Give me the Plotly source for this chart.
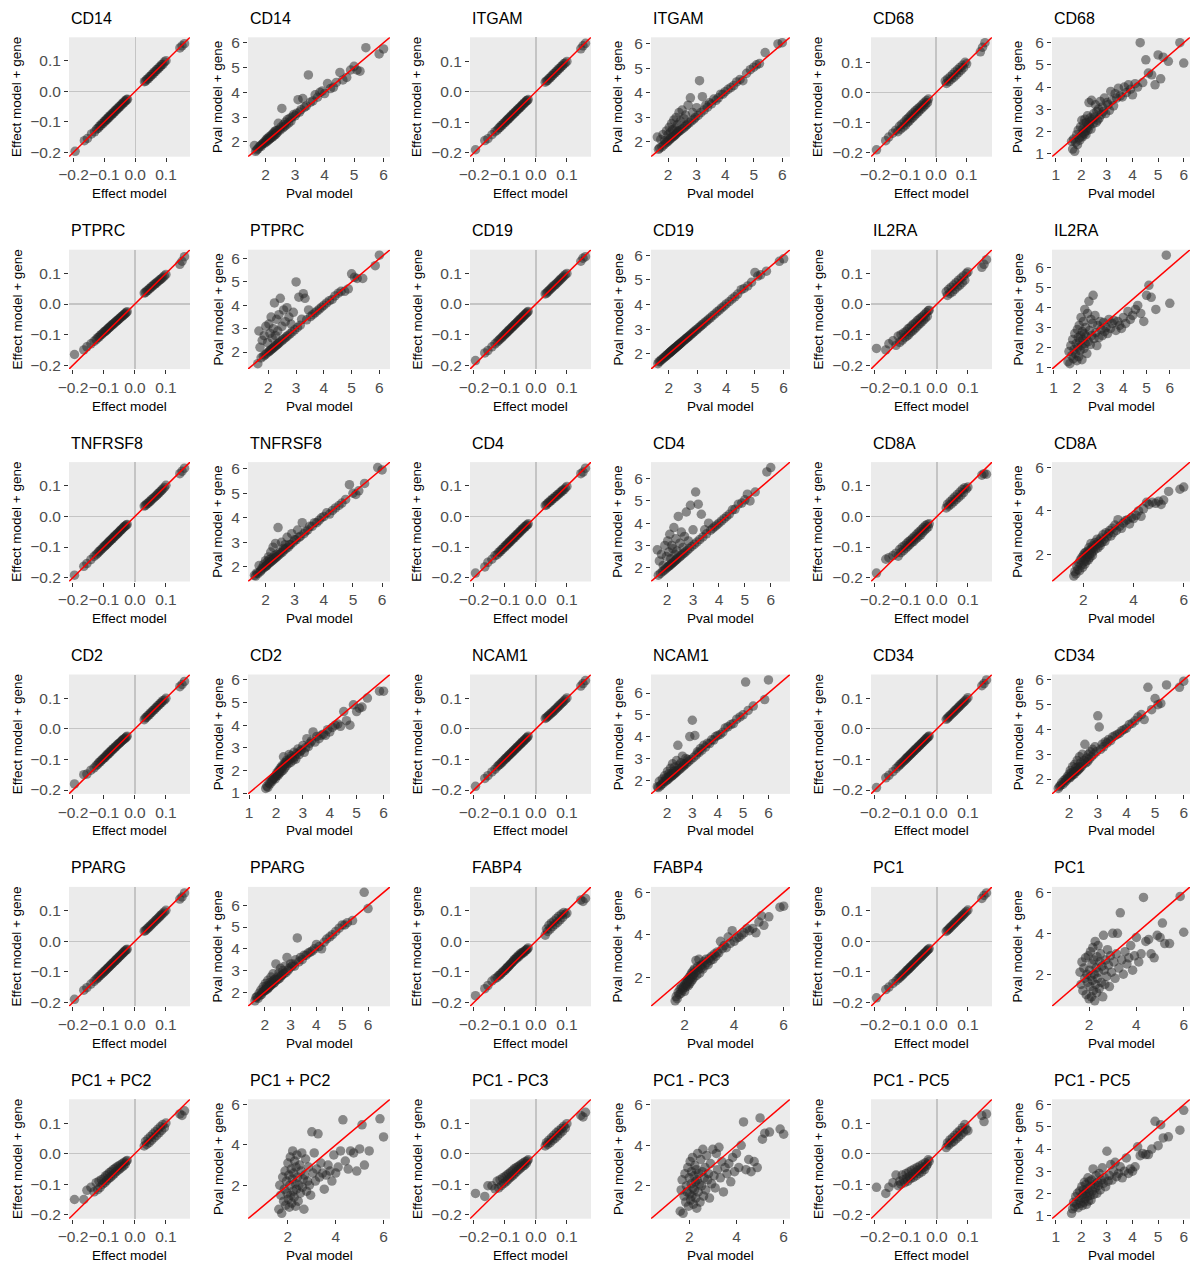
import plotly.graph_objects as go

# ---------------- shared x values ----------------
x_effect = [-0.195, -0.165, -0.155, -0.142, -0.132, -0.125,
            -0.120, -0.116, -0.112, -0.108, -0.104, -0.100,
            -0.097, -0.094, -0.091, -0.088, -0.085, -0.082,
            -0.079, -0.076, -0.073, -0.070, -0.067, -0.064,
            -0.061, -0.058, -0.055, -0.052, -0.049, -0.046,
            -0.043, -0.040, -0.037, -0.034, -0.031, -0.028, -0.025,
            0.030, 0.034, 0.038, 0.042, 0.046, 0.050,
            0.054, 0.058, 0.062, 0.066, 0.070, 0.074,
            0.078, 0.082, 0.086, 0.090, 0.095, 0.100,
            0.145, 0.152, 0.160]

x_pval = [1.62, 1.66, 1.70, 1.74, 1.78, 1.82, 1.85, 1.88, 1.91, 1.94,
          1.97, 2.00, 2.02, 2.04, 2.06, 2.08, 2.10, 2.12, 2.14, 2.16,
          2.18, 2.20, 2.22, 2.24, 2.26, 2.28, 2.30, 2.32, 2.34, 2.36,
          2.38, 2.40, 2.43, 2.46, 2.49, 2.52, 2.55, 2.58, 2.61, 2.64,
          2.67, 2.70, 2.74, 2.78, 2.82, 2.86, 2.90, 2.95, 3.00, 3.05,
          3.10, 3.15, 3.20, 3.26, 3.32, 3.38, 3.45, 3.52, 3.60, 3.68,
          3.76, 3.84, 3.92, 4.00, 4.10, 4.20, 4.30, 4.40, 4.52, 4.62,
          4.75, 4.88, 5.00, 5.10, 5.20, 5.40, 5.85, 6.00]

# ---------------- effect model + gene ----------------
eff_CD14 = [-0.197, -0.162, -0.155, -0.140, -0.133, -0.124,
            -0.121, -0.114, -0.113, -0.106, -0.105, -0.098,
            -0.098, -0.092, -0.092, -0.086, -0.086, -0.080,
            -0.080, -0.074, -0.074, -0.068, -0.068, -0.062,
            -0.062, -0.056, -0.056, -0.050, -0.050, -0.044,
            -0.044, -0.038, -0.038, -0.032, -0.032, -0.027, -0.026,
            0.032, 0.034, 0.040, 0.041, 0.048, 0.049,
            0.056, 0.057, 0.064, 0.065, 0.072, 0.073,
            0.080, 0.081, 0.088, 0.089, 0.097, 0.101,
            0.143, 0.150, 0.157]
eff_ITGAM = [-0.190, -0.160, -0.154, -0.141, -0.131, -0.126,
             -0.119, -0.117, -0.111, -0.109, -0.103, -0.101,
             -0.096, -0.095, -0.090, -0.089, -0.084, -0.083,
             -0.078, -0.077, -0.072, -0.071, -0.066, -0.065,
             -0.060, -0.059, -0.054, -0.053, -0.048, -0.047,
             -0.042, -0.041, -0.036, -0.035, -0.030, -0.029, -0.026,
             0.031, 0.035, 0.037, 0.043, 0.045, 0.051,
             0.053, 0.059, 0.061, 0.067, 0.069, 0.075,
             0.077, 0.083, 0.085, 0.091, 0.094, 0.099,
             0.140, 0.150, 0.158]
eff_CD68 = [-0.190, -0.160, -0.148, -0.135, -0.125, -0.130,
            -0.112, -0.122, -0.105, -0.115, -0.098, -0.108,
            -0.090, -0.100, -0.085, -0.095, -0.078, -0.088,
            -0.072, -0.083, -0.066, -0.076, -0.060, -0.070,
            -0.055, -0.064, -0.050, -0.058, -0.044, -0.052,
            -0.038, -0.046, -0.032, -0.040, -0.027, -0.034, -0.022,
            0.038, 0.030, 0.045, 0.036, 0.052, 0.044,
            0.060, 0.050, 0.068, 0.058, 0.075, 0.066,
            0.083, 0.074, 0.090, 0.082, 0.100, 0.095,
            0.135, 0.150, 0.165]
eff_PTPRC = [-0.165, -0.150, -0.140, -0.130, -0.122, -0.116,
             -0.110, -0.108, -0.102, -0.100, -0.096, -0.092,
             -0.090, -0.087, -0.085, -0.081, -0.079, -0.076,
             -0.074, -0.070, -0.068, -0.065, -0.063, -0.060,
             -0.057, -0.055, -0.052, -0.049, -0.047, -0.044,
             -0.041, -0.039, -0.036, -0.033, -0.031, -0.028, -0.025,
             0.036, 0.038, 0.043, 0.045, 0.050, 0.052,
             0.057, 0.059, 0.064, 0.066, 0.070, 0.073,
             0.077, 0.080, 0.083, 0.087, 0.092, 0.097,
             0.130, 0.140, 0.155]
eff_CD19 = [-0.185, -0.160, -0.152, -0.140, -0.130, -0.124,
            -0.119, -0.115, -0.111, -0.107, -0.103, -0.099,
            -0.096, -0.093, -0.090, -0.087, -0.084, -0.081,
            -0.078, -0.075, -0.072, -0.069, -0.066, -0.063,
            -0.060, -0.057, -0.054, -0.051, -0.048, -0.045,
            -0.042, -0.039, -0.036, -0.033, -0.030, -0.027, -0.024,
            0.033, 0.036, 0.040, 0.044, 0.048, 0.052,
            0.056, 0.060, 0.063, 0.067, 0.071, 0.075,
            0.079, 0.083, 0.087, 0.091, 0.096, 0.100,
            0.140, 0.150, 0.155]
eff_IL2RA = [-0.145, -0.150, -0.130, -0.120, -0.135, -0.105,
             -0.125, -0.100, -0.118, -0.095, -0.110, -0.090,
             -0.105, -0.082, -0.100, -0.078, -0.092, -0.072,
             -0.088, -0.066, -0.082, -0.062, -0.076, -0.055,
             -0.070, -0.050, -0.064, -0.045, -0.058, -0.040,
             -0.052, -0.034, -0.046, -0.028, -0.040, -0.022, -0.020,
             0.040, 0.028, 0.048, 0.035, 0.055, 0.040,
             0.062, 0.048, 0.070, 0.056, 0.078, 0.062,
             0.085, 0.070, 0.092, 0.078, 0.100, 0.105,
             0.120, 0.130, 0.145]
eff_TNFRSF8 = [-0.192, -0.163, -0.154, -0.141, -0.131, -0.125,
               -0.120, -0.115, -0.112, -0.107, -0.104, -0.099,
               -0.097, -0.093, -0.091, -0.087, -0.085, -0.081,
               -0.079, -0.075, -0.073, -0.069, -0.067, -0.063,
               -0.061, -0.057, -0.055, -0.051, -0.049, -0.045,
               -0.043, -0.039, -0.037, -0.033, -0.031, -0.028, -0.026,
               0.034, 0.036, 0.041, 0.043, 0.048, 0.050,
               0.055, 0.058, 0.062, 0.066, 0.069, 0.074,
               0.077, 0.082, 0.085, 0.090, 0.095, 0.102,
               0.140, 0.148, 0.158]
eff_CD4 = [-0.185, -0.165, -0.150, -0.140, -0.128, -0.125,
           -0.117, -0.116, -0.109, -0.108, -0.101, -0.100,
           -0.094, -0.094, -0.088, -0.088, -0.082, -0.082,
           -0.076, -0.076, -0.070, -0.070, -0.064, -0.064,
           -0.058, -0.058, -0.052, -0.052, -0.046, -0.046,
           -0.040, -0.040, -0.034, -0.034, -0.029, -0.028, -0.024,
           0.036, 0.038, 0.044, 0.045, 0.051, 0.052,
           0.058, 0.059, 0.065, 0.066, 0.072, 0.073,
           0.079, 0.080, 0.086, 0.087, 0.093, 0.098,
           0.140, 0.145, 0.158]
eff_CD8A = [-0.185, -0.140, -0.135, -0.128, -0.120, -0.130,
            -0.108, -0.118, -0.100, -0.112, -0.095, -0.104,
            -0.088, -0.098, -0.082, -0.092, -0.078, -0.086,
            -0.072, -0.082, -0.066, -0.075, -0.060, -0.070,
            -0.054, -0.064, -0.048, -0.060, -0.042, -0.052,
            -0.036, -0.046, -0.030, -0.040, -0.026, -0.034, -0.024,
            0.028, 0.040, 0.034, 0.048, 0.040, 0.056,
            0.048, 0.064, 0.055, 0.072, 0.062, 0.080,
            0.070, 0.088, 0.078, 0.094, 0.090, 0.096,
            0.135, 0.140, 0.138]
eff_CD2 = [-0.180, -0.150, -0.148, -0.135, -0.128, -0.120,
           -0.116, -0.110, -0.108, -0.102, -0.100, -0.095,
           -0.094, -0.088, -0.088, -0.082, -0.082, -0.076,
           -0.076, -0.070, -0.070, -0.065, -0.064, -0.059,
           -0.058, -0.053, -0.052, -0.048, -0.046, -0.043,
           -0.040, -0.037, -0.035, -0.032, -0.030, -0.027, -0.024,
           0.030, 0.036, 0.038, 0.044, 0.046, 0.052,
           0.054, 0.060, 0.062, 0.068, 0.070, 0.076,
           0.078, 0.084, 0.086, 0.092, 0.094, 0.100,
           0.138, 0.145, 0.155]
eff_NCAM1 = [-0.188, -0.162, -0.153, -0.141, -0.132, -0.124,
             -0.119, -0.116, -0.111, -0.108, -0.103, -0.100,
             -0.096, -0.094, -0.090, -0.088, -0.084, -0.082,
             -0.078, -0.076, -0.072, -0.070, -0.066, -0.064,
             -0.060, -0.058, -0.054, -0.052, -0.048, -0.046,
             -0.042, -0.040, -0.036, -0.034, -0.030, -0.028, -0.024,
             0.034, 0.037, 0.041, 0.044, 0.048, 0.052,
             0.055, 0.059, 0.063, 0.067, 0.071, 0.075,
             0.079, 0.083, 0.087, 0.091, 0.096, 0.101,
             0.140, 0.148, 0.158]
eff_CD34 = [-0.192, -0.160, -0.152, -0.140, -0.130, -0.123,
            -0.118, -0.114, -0.110, -0.106, -0.102, -0.098,
            -0.095, -0.092, -0.089, -0.086, -0.083, -0.080,
            -0.077, -0.074, -0.071, -0.068, -0.065, -0.062,
            -0.059, -0.056, -0.053, -0.050, -0.047, -0.044,
            -0.041, -0.038, -0.035, -0.032, -0.029, -0.026, -0.023,
            0.031, 0.035, 0.039, 0.043, 0.047, 0.051,
            0.055, 0.059, 0.063, 0.067, 0.071, 0.075,
            0.079, 0.083, 0.087, 0.091, 0.096, 0.102,
            0.141, 0.148, 0.160]
eff_PPARG = [-0.190, -0.160, -0.152, -0.140, -0.131, -0.124,
             -0.120, -0.115, -0.112, -0.107, -0.104, -0.100,
             -0.097, -0.094, -0.091, -0.088, -0.085, -0.082,
             -0.079, -0.076, -0.073, -0.070, -0.067, -0.064,
             -0.061, -0.058, -0.055, -0.052, -0.049, -0.046,
             -0.043, -0.040, -0.037, -0.034, -0.031, -0.028, -0.026,
             0.033, 0.035, 0.040, 0.043, 0.047, 0.051,
             0.055, 0.059, 0.063, 0.067, 0.071, 0.075,
             0.079, 0.083, 0.087, 0.091, 0.096, 0.101,
             0.138, 0.145, 0.158]
eff_FABP4 = [-0.178, -0.155, -0.145, -0.130, -0.122, -0.118,
             -0.112, -0.110, -0.105, -0.102, -0.097, -0.095,
             -0.090, -0.088, -0.084, -0.082, -0.078, -0.075,
             -0.072, -0.068, -0.066, -0.060, -0.060, -0.054,
             -0.055, -0.048, -0.050, -0.042, -0.044, -0.038,
             -0.040, -0.034, -0.035, -0.030, -0.028, -0.026, -0.022,
             0.020, 0.040, 0.032, 0.052, 0.040, 0.060,
             0.048, 0.066, 0.055, 0.074, 0.062, 0.082,
             0.070, 0.088, 0.078, 0.094, 0.088, 0.092,
             0.135, 0.130, 0.140]
eff_PC1 = [-0.185, -0.158, -0.150, -0.138, -0.130, -0.123,
           -0.119, -0.115, -0.111, -0.107, -0.103, -0.099,
           -0.096, -0.093, -0.090, -0.087, -0.084, -0.081,
           -0.078, -0.075, -0.072, -0.069, -0.066, -0.063,
           -0.060, -0.057, -0.054, -0.051, -0.048, -0.045,
           -0.042, -0.039, -0.036, -0.033, -0.030, -0.027, -0.024,
           0.032, 0.036, 0.040, 0.044, 0.048, 0.052,
           0.056, 0.060, 0.064, 0.068, 0.072, 0.076,
           0.080, 0.084, 0.088, 0.092, 0.097, 0.102,
           0.140, 0.150, 0.158]
eff_PC1_PC2 = [-0.150, -0.150, -0.120, -0.110, -0.125, -0.095,
               -0.118, -0.090, -0.110, -0.085, -0.100, -0.080,
               -0.095, -0.072, -0.088, -0.068, -0.082, -0.062,
               -0.078, -0.058, -0.072, -0.052, -0.066, -0.048,
               -0.060, -0.044, -0.055, -0.040, -0.050, -0.036,
               -0.045, -0.032, -0.040, -0.028, -0.034, -0.025, -0.022,
               0.025, 0.040, 0.030, 0.048, 0.036, 0.056,
               0.044, 0.064, 0.052, 0.072, 0.060, 0.080,
               0.068, 0.088, 0.076, 0.095, 0.085, 0.100,
               0.130, 0.125, 0.140]
eff_PC1_PC3 = [-0.130, -0.140, -0.105, -0.105, -0.115, -0.090,
               -0.112, -0.085, -0.105, -0.080, -0.098, -0.075,
               -0.092, -0.070, -0.086, -0.066, -0.080, -0.060,
               -0.075, -0.056, -0.070, -0.050, -0.064, -0.046,
               -0.058, -0.042, -0.052, -0.038, -0.047, -0.034,
               -0.042, -0.030, -0.038, -0.026, -0.032, -0.024, -0.020,
               0.025, 0.036, 0.030, 0.044, 0.036, 0.052,
               0.044, 0.060, 0.050, 0.068, 0.058, 0.075,
               0.066, 0.082, 0.074, 0.090, 0.084, 0.098,
               0.125, 0.120, 0.135]
eff_PC1_PC5 = [-0.110, -0.130, -0.110, -0.095, -0.070, -0.105,
               -0.090, -0.100, -0.070, -0.085, -0.095, -0.065,
               -0.080, -0.090, -0.060, -0.075, -0.082, -0.055,
               -0.068, -0.078, -0.050, -0.062, -0.072, -0.045,
               -0.055, -0.065, -0.040, -0.050, -0.060, -0.035,
               -0.045, -0.052, -0.030, -0.040, -0.035, -0.020, -0.025,
               0.020, 0.035, 0.028, 0.045, 0.035, 0.052,
               0.040, 0.060, 0.048, 0.068, 0.055, 0.075,
               0.062, 0.085, 0.070, 0.095, 0.080, 0.075,
               0.125, 0.105, 0.130]

# ---------------- Pval model + gene ----------------
pv_CD14 = [1.85, 1.62, 1.68, 1.72, 1.80, 1.85, 1.82, 1.90, 1.93, 1.98,
           1.95, 2.05, 2.00, 2.12, 2.04, 2.15, 2.08, 2.20, 2.12, 2.14,
           2.25, 2.18, 2.30, 2.20, 2.35, 2.26, 2.40, 2.28, 2.45, 2.33,
           2.45, 2.38, 2.75, 2.50, 2.47, 2.60, 3.35, 2.56, 2.70, 2.62,
           2.80, 2.68, 2.90, 2.76, 2.95, 2.84, 3.00, 3.10, 3.05, 3.15,
           3.70, 3.20, 3.30, 3.75, 3.40, 3.45, 4.70, 3.60, 3.65, 3.90,
           3.80, 4.00, 4.05, 3.95, 4.35, 4.15, 4.20, 4.40, 4.80, 4.50,
           4.60, 4.90, 5.05, 4.90, 4.85, 5.80, 5.55, 5.75]
pv_ITGAM = [2.20, 1.70, 1.75, 2.10, 1.80, 2.30, 1.88, 2.05, 1.95, 2.45,
            2.00, 2.30, 2.05, 2.60, 2.10, 2.40, 2.15, 2.75, 2.20, 2.50,
            2.22, 2.90, 2.26, 2.55, 2.30, 3.00, 2.35, 2.70, 2.40, 2.45,
            3.20, 2.45, 2.85, 2.50, 3.30, 2.55, 2.95, 2.62, 3.10, 2.68,
            2.72, 3.50, 2.78, 3.80, 2.86, 3.20, 2.93, 3.00, 3.40, 3.08,
            4.50, 3.20, 3.85, 3.30, 3.50, 3.42, 3.60, 3.55, 3.75, 3.70,
            3.80, 3.95, 3.95, 4.05, 4.15, 4.22, 4.30, 4.45, 4.55, 4.50,
            4.80, 4.95, 5.05, 5.15, 5.20, 5.65, 6.00, 6.05]
pv_CD68 = [1.55, 1.20, 1.65, 1.10, 1.50, 1.85, 1.40, 2.05, 1.70, 1.60,
           2.20, 1.80, 2.50, 1.75, 2.10, 1.95, 2.35, 1.90, 2.55, 2.00,
           1.85, 2.40, 2.15, 2.70, 2.05, 2.30, 3.30, 2.25, 2.60, 2.45,
           2.10, 3.40, 2.55, 2.35, 2.80, 2.65, 3.20, 2.40, 2.90, 2.50,
           3.00, 2.60, 3.35, 2.75, 3.10, 2.90, 3.50, 2.80, 3.30, 3.20,
           2.95, 3.80, 3.40, 3.15, 3.70, 3.50, 3.95, 3.60, 3.55, 4.00,
           3.75, 4.10, 3.90, 3.65, 4.15, 4.00, 6.00, 4.20, 5.23, 4.63,
           4.55, 4.10, 5.45, 4.37, 5.35, 5.16, 6.00, 5.08]
pv_PTPRC = [1.50, 2.90, 2.20, 1.75, 2.50, 1.82, 2.70, 1.88, 3.10, 1.94,
            2.40, 2.00, 3.20, 2.04, 2.80, 2.08, 3.50, 2.12, 2.60, 2.16,
            3.00, 2.20, 4.10, 2.24, 2.70, 2.28, 3.40, 2.32, 2.90, 2.36,
            3.60, 2.40, 4.30, 2.46, 3.10, 2.52, 3.80, 2.58, 3.30, 2.64,
            3.90, 2.70, 3.50, 2.78, 3.20, 2.86, 3.70, 2.95, 5.00, 3.05,
            4.35, 3.15, 3.40, 4.50, 4.30, 3.38, 3.80, 3.52, 3.60, 3.68,
            3.76, 3.84, 3.92, 4.00, 4.10, 4.20, 4.25, 4.40, 4.52, 4.60,
            4.60, 4.70, 5.35, 5.20, 5.15, 5.15, 5.70, 6.15]
pv_CD19 = [1.60, 1.68, 1.70, 1.76, 1.78, 1.84, 1.85, 1.90, 1.92, 1.96,
           1.98, 2.02, 2.03, 2.06, 2.07, 2.10, 2.11, 2.14, 2.15, 2.18,
           2.19, 2.22, 2.23, 2.26, 2.27, 2.30, 2.31, 2.34, 2.35, 2.38,
           2.39, 2.42, 2.44, 2.48, 2.50, 2.54, 2.56, 2.60, 2.62, 2.66,
           2.68, 2.72, 2.75, 2.80, 2.83, 2.88, 2.91, 2.97, 3.01, 3.07,
           3.11, 3.17, 3.21, 3.28, 3.33, 3.40, 3.46, 3.54, 3.61, 3.70,
           3.77, 3.86, 3.93, 4.02, 4.11, 4.22, 4.31, 4.42, 4.60, 4.65,
           4.75, 4.90, 5.30, 5.15, 5.20, 5.35, 5.75, 5.85]
pv_IL2RA = [1.30, 1.80, 1.20, 2.10, 1.60, 2.40, 1.45, 1.90, 2.70, 1.70,
            2.20, 1.35, 2.90, 2.00, 2.50, 1.55, 3.10, 2.30, 1.85, 2.60,
            3.50, 2.10, 1.40, 2.80, 2.40, 3.30, 1.95, 2.70, 3.90, 2.20,
            3.00, 2.55, 1.70, 3.70, 2.30, 4.30, 2.85, 2.15, 3.40, 2.60,
            3.20, 4.60, 2.45, 3.60, 2.75, 2.10, 3.10, 2.50, 3.30, 2.90,
            2.60, 3.25, 2.80, 3.00, 2.70, 3.40, 2.95, 3.20, 3.35, 2.85,
            3.30, 3.10, 2.95, 3.50, 3.20, 3.80, 3.40, 3.60, 3.90, 4.10,
            3.70, 3.30, 4.60, 5.10, 4.50, 3.90, 6.60, 4.20]
pv_TNFRSF8 = [1.65, 1.62, 1.75, 1.72, 2.05, 1.80, 1.86, 1.95, 1.92, 2.10,
              1.98, 2.25, 2.03, 2.05, 2.20, 2.10, 2.40, 2.15, 2.30, 2.18,
              2.60, 2.22, 2.35, 2.26, 2.80, 2.30, 2.45, 2.34, 2.95, 2.38,
              2.50, 2.42, 3.60, 2.48, 2.60, 2.55, 3.00, 2.60, 2.75, 2.68,
              2.90, 2.74, 3.20, 2.80, 2.90, 2.90, 3.35, 3.00, 3.10, 3.10,
              3.50, 3.20, 3.25, 3.80, 3.35, 3.45, 3.50, 3.65, 3.65, 3.80,
              3.80, 3.90, 4.00, 4.05, 4.20, 4.15, 4.30, 4.40, 4.50, 4.60,
              4.75, 5.35, 5.00, 4.95, 5.10, 5.40, 6.05, 5.95]
pv_CD4 = [2.80, 1.66, 2.30, 1.74, 2.60, 1.82, 2.10, 1.88, 3.00, 1.94,
          2.50, 2.00, 3.20, 2.04, 2.70, 2.08, 3.50, 2.12, 2.40, 2.16,
          3.00, 2.20, 2.85, 2.24, 3.80, 2.28, 2.60, 2.32, 3.30, 2.36,
          2.75, 2.40, 4.30, 2.46, 3.10, 2.52, 3.60, 2.58, 2.90, 2.64,
          3.40, 2.70, 4.50, 2.78, 3.20, 2.86, 4.80, 2.95, 3.70, 3.05,
          5.40, 3.15, 4.85, 3.26, 4.40, 3.38, 3.70, 3.52, 4.00, 3.68,
          3.76, 3.84, 3.92, 4.00, 4.10, 4.20, 4.30, 4.40, 4.60, 4.62,
          4.85, 4.90, 5.05, 5.30, 5.00, 5.40, 6.30, 6.50]
pv_CD8A = [1.00, 1.20, 1.10, 1.45, 1.30, 1.60, 1.25, 1.75, 1.50, 1.85,
           1.40, 1.95, 1.65, 2.05, 1.55, 1.80, 2.10, 1.70, 2.00, 1.90,
           2.15, 1.75, 2.30, 2.00, 1.85, 2.20, 2.50, 2.05, 2.25, 1.95,
           2.40, 2.15, 2.35, 2.55, 2.25, 2.45, 2.70, 2.30, 2.60, 2.50,
           2.40, 2.75, 2.55, 2.90, 2.70, 2.60, 3.00, 2.80, 2.95, 3.10,
           2.85, 3.20, 3.00, 3.35, 3.10, 3.60, 3.30, 3.20, 3.45, 3.55,
           3.60, 3.40, 3.70, 3.65, 3.80, 4.00, 3.75, 4.10, 4.40, 4.30,
           4.40, 4.35, 4.45, 4.30, 4.50, 4.90, 5.00, 5.10]
pv_CD2 = [1.20, 1.30, 1.25, 1.45, 1.40, 1.55, 1.50, 1.60, 1.65, 1.70,
          1.62, 1.80, 1.75, 1.90, 1.85, 1.78, 2.00, 1.95, 1.88, 2.10,
          2.05, 1.95, 2.20, 2.15, 2.00, 2.60, 2.25, 2.10, 2.35, 2.30,
          2.20, 2.45, 2.40, 2.30, 2.70, 2.50, 2.35, 2.65, 2.55, 2.45,
          2.80, 2.60, 2.50, 2.75, 2.95, 2.70, 2.85, 2.90, 3.10, 2.80,
          3.00, 3.40, 3.05, 3.20, 3.30, 3.70, 3.25, 3.50, 3.40, 3.55,
          3.60, 3.55, 3.80, 3.70, 3.90, 4.00, 4.05, 3.95, 4.60, 4.20,
          4.00, 4.90, 4.60, 4.75, 4.80, 5.20, 5.50, 5.50]
pv_NCAM1 = [1.70, 1.66, 1.95, 1.74, 1.80, 2.05, 1.85, 1.95, 2.20, 1.94,
            2.10, 2.00, 2.40, 2.04, 2.15, 2.30, 2.10, 2.20, 2.55, 2.16,
            2.30, 2.20, 2.75, 2.24, 2.40, 2.28, 2.60, 2.32, 2.45, 2.36,
            2.90, 2.40, 3.60, 2.46, 2.70, 2.52, 2.80, 2.58, 3.10, 2.64,
            2.75, 2.70, 3.00, 2.78, 2.95, 2.86, 4.00, 2.95, 4.75, 3.05,
            4.05, 3.15, 3.30, 3.26, 3.45, 3.38, 3.60, 3.52, 3.70, 3.68,
            3.85, 3.84, 4.00, 4.05, 4.10, 4.20, 4.40, 4.45, 4.55, 4.60,
            4.80, 4.90, 5.00, 6.50, 5.20, 5.40, 5.70, 6.60]
pv_CD34 = [1.62, 1.70, 1.75, 1.85, 1.78, 1.95, 1.88, 2.00, 1.95, 2.10,
           2.05, 2.20, 2.05, 2.35, 2.10, 2.25, 2.15, 2.50, 2.20, 2.30,
           2.20, 2.60, 2.30, 2.45, 2.30, 2.75, 2.35, 2.50, 2.40, 2.90,
           2.45, 2.65, 2.50, 3.00, 2.60, 2.75, 3.40, 2.65, 2.85, 2.70,
           3.00, 2.80, 3.10, 2.90, 3.20, 3.00, 3.30, 3.10, 4.55, 4.10,
           3.20, 3.40, 3.30, 3.50, 3.45, 3.60, 3.55, 3.70, 3.75, 3.80,
           3.85, 3.95, 4.00, 4.05, 4.20, 4.25, 4.35, 4.50, 4.60, 4.40,
           5.70, 4.80, 5.25, 5.00, 5.05, 5.80, 5.70, 5.95]
pv_PPARG = [1.60, 1.75, 1.80, 1.72, 1.95, 1.85, 2.10, 1.90, 2.00, 2.25,
            2.05, 2.10, 2.40, 2.10, 2.20, 2.30, 2.15, 2.55, 2.20, 2.30,
            2.25, 2.45, 2.30, 2.70, 2.35, 2.40, 2.50, 2.85, 2.40, 2.55,
            2.45, 2.60, 3.30, 2.55, 2.70, 2.60, 2.90, 2.65, 3.10, 2.75,
            2.80, 3.00, 2.85, 3.20, 2.90, 3.60, 3.00, 3.10, 3.30, 3.20,
            3.30, 3.20, 3.50, 4.50, 3.40, 3.60, 3.50, 3.70, 3.70, 3.80,
            3.85, 3.90, 4.00, 4.20, 4.10, 4.00, 4.30, 4.45, 4.55, 4.65,
            4.80, 4.95, 5.10, 5.10, 5.20, 5.30, 6.60, 5.85]
pv_FABP4 = [0.90, 1.10, 1.00, 1.30, 1.20, 1.45, 1.25, 1.55, 1.40, 1.50,
            1.60, 1.35, 1.70, 1.55, 1.80, 1.65, 1.75, 1.90, 1.60, 1.85,
            2.00, 1.70, 1.95, 2.10, 1.80, 2.20, 2.05, 1.90, 2.30, 2.15,
            2.00, 2.40, 2.25, 2.80, 2.10, 2.50, 2.35, 2.85, 2.20, 2.55,
            2.45, 2.60, 2.40, 2.75, 2.55, 2.85, 2.70, 2.60, 2.90, 2.80,
            3.00, 2.85, 3.10, 3.00, 3.20, 3.15, 3.70, 3.35, 3.50, 3.40,
            3.90, 3.60, 4.20, 3.70, 3.85, 3.90, 4.00, 4.10, 4.30, 4.20,
            4.30, 4.10, 4.60, 4.90, 4.45, 4.85, 5.30, 5.35]
pv_PC1 = [2.10, 1.50, 2.60, 1.20, 2.30, 1.80, 2.80, 1.00, 2.00, 1.60,
          2.90, 0.80, 2.20, 1.40, 3.10, 1.90, 0.90, 2.50, 1.70, 3.30,
          1.20, 2.70, 2.00, 0.70, 3.60, 1.50, 2.30, 1.10, 2.85, 1.80,
          3.40, 2.10, 1.30, 2.60, 3.00, 1.60, 2.40, 0.90, 3.90, 2.20,
          1.50, 2.70, 1.90, 3.20, 2.45, 1.40, 2.90, 2.10, 4.00, 2.60,
          1.80, 3.00, 4.00, 2.30, 5.00, 2.70, 2.00, 3.10, 2.50, 2.80,
          3.40, 2.20, 2.90, 3.80, 2.60, 3.00, 5.75, 3.60, 3.70, 3.00,
          2.80, 3.90, 3.80, 4.50, 3.50, 3.50, 5.80, 4.05]
pv_PC1_PC2 = [0.80, 2.00, 1.50, 0.60, 2.40, 1.20, 1.80, 2.70, 1.00, 2.20,
              1.60, 3.10, 1.30, 2.50, 0.90, 2.00, 3.40, 1.50, 2.80, 1.10,
              2.30, 3.70, 1.70, 2.60, 1.40, 3.20, 2.10, 0.95, 2.90, 1.80,
              3.50, 2.40, 1.20, 2.00, 3.00, 1.60, 2.70, 3.60, 1.90, 2.30,
              0.80, 2.50, 3.30, 1.70, 2.20, 2.90, 2.00, 1.50, 4.65, 2.60,
              3.60, 2.20, 2.80, 4.55, 2.40, 3.10, 2.60, 1.80, 2.50, 3.00,
              2.70, 2.20, 3.50, 2.60, 2.90, 3.70, 5.25, 3.20, 2.80, 3.70,
              3.60, 2.70, 3.80, 5.00, 3.00, 3.70, 5.30, 4.40]
pv_PC1_PC3 = [0.75, 1.80, 2.30, 0.65, 1.50, 2.60, 1.20, 2.00, 1.70, 2.90,
              1.00, 2.40, 1.60, 3.20, 1.30, 2.10, 2.70, 1.50, 3.40, 1.90,
              1.10, 2.50, 1.80, 3.00, 2.20, 1.40, 2.80, 0.90, 2.30, 3.60,
              1.70, 2.60, 2.10, 1.20, 3.30, 2.00, 2.70, 3.80, 1.50, 2.40,
              2.90, 1.80, 3.50, 2.30, 2.60, 1.40, 3.10, 2.10, 3.80, 2.50,
              1.90, 3.60, 2.80, 3.90, 2.40, 3.20, 1.70, 2.90, 2.60, 3.10,
              2.20, 3.40, 2.70, 3.60, 2.90, 4.00, 5.15, 2.80, 3.30, 2.70,
              3.20, 2.90, 5.35, 4.30, 4.60, 4.65, 4.80, 4.55]
pv_PC1_PC5 = [1.10, 1.30, 1.60, 1.40, 1.85, 1.50, 2.00, 1.35, 1.70, 2.10,
              1.55, 1.80, 2.30, 1.45, 1.95, 2.15, 1.60, 2.50, 1.75, 2.00,
              2.40, 1.50, 2.20, 1.85, 2.70, 1.65, 2.05, 2.55, 1.90, 2.30,
              1.70, 2.60, 2.10, 3.10, 1.95, 2.40, 2.25, 2.80, 2.00, 2.50,
              2.35, 2.90, 2.15, 2.60, 3.15, 2.45, 2.70, 2.30, 3.90, 2.55,
              2.80, 3.30, 2.60, 3.00, 3.40, 2.75, 2.90, 3.20, 2.70, 3.00,
              3.60, 2.90, 3.10, 3.00, 3.20, 4.10, 3.70, 3.80, 3.75, 3.75,
              4.00, 5.25, 4.15, 5.10, 4.50, 4.55, 4.85, 5.75]

genes = ["CD14", "ITGAM", "CD68", "PTPRC", "CD19", "IL2RA",
         "TNFRSF8", "CD4", "CD8A", "CD2", "NCAM1", "CD34",
         "PPARG", "FABP4", "PC1", "PC1 + PC2", "PC1 - PC3", "PC1 - PC5"]
effect_sets = [eff_CD14, eff_ITGAM, eff_CD68, eff_PTPRC, eff_CD19, eff_IL2RA,
               eff_TNFRSF8, eff_CD4, eff_CD8A, eff_CD2, eff_NCAM1, eff_CD34,
               eff_PPARG, eff_FABP4, eff_PC1, eff_PC1_PC2, eff_PC1_PC3, eff_PC1_PC5]
pval_sets = [pv_CD14, pv_ITGAM, pv_CD68, pv_PTPRC, pv_CD19, pv_IL2RA,
             pv_TNFRSF8, pv_CD4, pv_CD8A, pv_CD2, pv_NCAM1, pv_CD34,
             pv_PPARG, pv_FABP4, pv_PC1, pv_PC1_PC2, pv_PC1_PC3, pv_PC1_PC5]
pval_tick_step = [1, 1, 1, 1, 1, 1, 1, 1, 2, 1, 1, 1, 1, 2, 2, 2, 2, 1]
effect_ticks = [-0.2, -0.1, 0.0, 0.1]

for arr in effect_sets:
    assert len(arr) == len(x_effect), len(arr)
for arr in pval_sets:
    assert len(arr) == len(x_pval), len(arr)

# ---------------- layout geometry (pixels) ----------------
W, H = 1196, 1263
col_left = [69, 248, 470, 651, 871, 1052]
col_right = [190, 390, 591, 790, 992, 1190]
ytitle_x = [17, 218, 417, 618, 818, 1018]
row_top0, row_step, row_h = 37.3, 212.4, 119.4

FONT = "Liberation Sans, Arial, sans-serif"
TICKFONT = dict(family=FONT, size=15.5, color="#4D4D4D")

fig = go.Figure()
layout = dict(width=W, height=H, margin=dict(l=0, r=0, t=0, b=0, autoexpand=False),
              paper_bgcolor="white", plot_bgcolor="#EBEBEB",
              showlegend=False, font=dict(family=FONT), hovermode=False)
annotations = []
shapes = []

for k, g in enumerate(genes):
    r = k // 3
    top = row_top0 + row_step * r
    bottom = top + row_h
    for j in range(2):
        c = (k % 3) * 2 + j
        idx = r * 6 + c + 1
        is_eff = (j == 0)
        xs = x_effect if is_eff else x_pval
        ys = effect_sets[k] if is_eff else pval_sets[k]
        lo = min(min(xs), min(ys))
        hi = max(max(xs), max(ys))
        pad = (hi - lo) * 0.05
        rng = [lo - pad, hi + pad]
        xname = "x" if idx == 1 else f"x{idx}"
        yname = "y" if idx == 1 else f"y{idx}"
        xkey = "xaxis" if idx == 1 else f"xaxis{idx}"
        ykey = "yaxis" if idx == 1 else f"yaxis{idx}"

        fig.add_trace(go.Scatter(
            x=xs, y=ys, mode="markers", xaxis=xname, yaxis=yname,
            marker=dict(size=9.5, color="rgba(35,35,35,0.5)", line=dict(width=0)),
            hoverinfo="skip", showlegend=False))

        common = dict(range=rng, showgrid=False, showline=False, automargin=False,
                      ticks="outside", ticklen=4, tickwidth=1, tickcolor="#333333",
                      tickfont=TICKFONT, tickangle=0, fixedrange=True)
        if is_eff:
            tk = dict(tickmode="array", tickvals=effect_ticks, tickformat=".1f",
                      zeroline=True, zerolinecolor="#C4C4C4", zerolinewidth=1.3)
        else:
            tk = dict(tickmode="linear", tick0=0, dtick=pval_tick_step[k],
                      tickformat="d", zeroline=False)
        layout[xkey] = dict(domain=[col_left[c] / W, col_right[c] / W],
                            anchor=yname, **common, **tk)
        layout[ykey] = dict(domain=[1 - bottom / H, 1 - top / H],
                            anchor=xname, **common, **tk)

        shapes.append(dict(type="line", xref=xname, yref=yname,
                           x0=rng[0], y0=rng[0], x1=rng[1], y1=rng[1],
                           line=dict(color="#FF0000", width=1.5), layer="above"))

        annotations.append(dict(text=g, x=col_left[c] / W, y=1 - (top - 19) / H,
                                xref="paper", yref="paper", xanchor="left", yanchor="middle",
                                showarrow=False, font=dict(family=FONT, size=16, color="black")))
        annotations.append(dict(text="Effect model" if is_eff else "Pval model",
                                x=(col_left[c] + col_right[c]) / 2 / W, y=1 - (bottom + 37) / H,
                                xref="paper", yref="paper", xanchor="center", yanchor="middle",
                                showarrow=False, font=dict(family=FONT, size=13.5, color="black")))
        annotations.append(dict(text="Effect model + gene" if is_eff else "Pval model + gene",
                                x=ytitle_x[c] / W, y=1 - (top + row_h / 2) / H,
                                xref="paper", yref="paper", xanchor="center", yanchor="middle",
                                textangle=-90, showarrow=False,
                                font=dict(family=FONT, size=13.5, color="black")))

layout["annotations"] = annotations
layout["shapes"] = shapes
fig.update_layout(**layout)
fig.write_html("out.html",
               config={"displayModeBar": False, "staticPlot": True},
               post_script="document.body.style.margin='0px';"
                           "document.body.style.padding='0px';"
                           "document.body.style.overflow='hidden';")
